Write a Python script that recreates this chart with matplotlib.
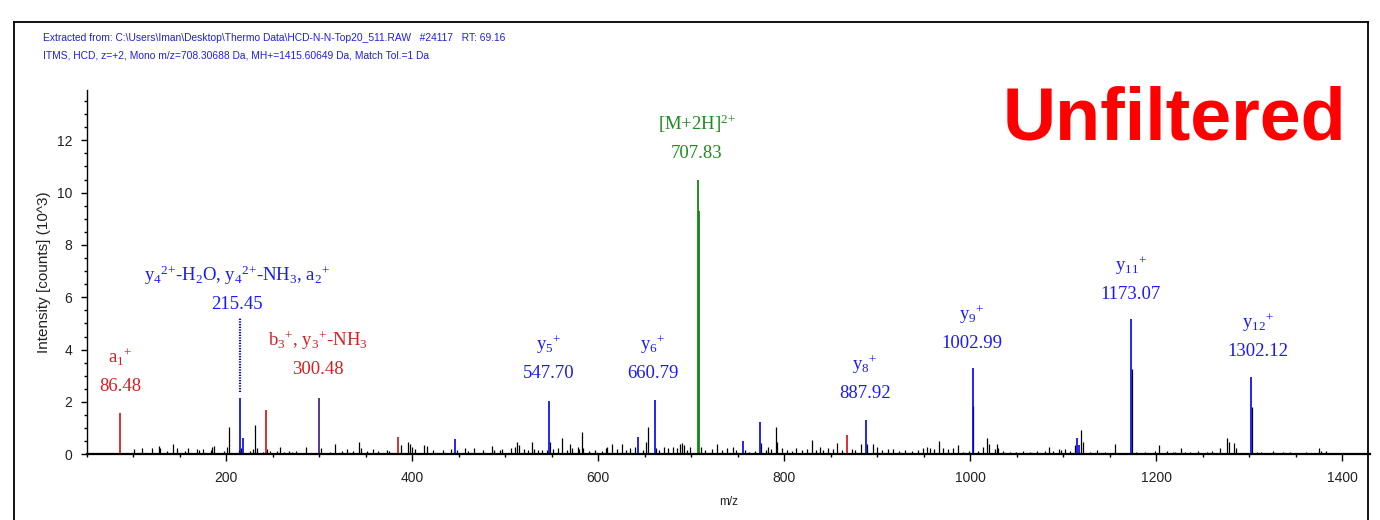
import matplotlib
matplotlib.use("Agg")
import matplotlib.pyplot as plt
from matplotlib.ticker import MultipleLocator
from matplotlib.lines import Line2D

# peak lists (m/z, intensity in 10^3 counts)
black_mz = [101.4, 110.0, 120.1, 128.3, 129.4, 136.3, 142.7, 147.0, 155.9, 158.8,
            169.1, 171.3, 174.9, 183.5, 185.3, 187.1, 197.8, 201.1, 202.9, 213.7,
            216.5, 225.8, 229.4, 231.2, 233.0, 239.5, 244.4, 247.3, 254.5, 258.0,
            262.3, 268.0, 270.6, 275.2, 286.0, 301.8, 311.8, 317.2, 324.4, 330.4,
            336.9, 343.3, 344.8, 351.3, 357.7, 363.8, 372.7, 375.6, 387.8, 396.0,
            397.8, 400.3, 403.2, 413.2, 415.7, 422.9, 432.9, 441.5, 448.0, 456.9,
            460.5, 466.6, 476.0, 485.6, 488.1, 494.5, 496.3, 506.0, 510.7, 513.2,
            515.0, 520.3, 525.0, 529.3, 531.1, 535.7, 539.4, 544.7, 548.7, 551.9,
            556.6, 560.9, 566.3, 569.8, 572.3, 578.1, 579.8, 582.4, 584.2, 590.6,
            596.7, 603.9, 608.5, 609.9, 615.3, 620.0, 625.4, 630.0, 634.3, 639.7,
            648.6, 651.5, 653.6, 662.2, 665.8, 670.8, 675.5, 680.9, 684.5, 688.0,
            690.5, 692.7, 695.2, 698.8, 710.2, 714.9, 722.1, 727.5, 732.9, 738.2,
            744.7, 748.2, 757.9, 762.5, 768.7, 775.1, 780.5, 783.0, 785.9, 790.9,
            792.6, 798.0, 802.7, 808.1, 812.7, 818.9, 824.2, 829.6, 834.2, 838.5,
            842.1, 847.5, 852.2, 856.5, 861.9, 872.6, 876.2, 882.3, 889.4, 895.2,
            899.5, 904.9, 912.0, 917.4, 923.8, 929.9, 937.1, 944.2, 949.6, 953.2,
            956.8, 961.1, 966.5, 971.1, 976.5, 981.9, 987.3, 992.6, 999.1, 1003.6,
            1008.4, 1013.4, 1018.4, 1020.5, 1026.6, 1028.5, 1030.2, 1035.6, 1042.8, 1049.2,
            1056.4, 1064.3, 1071.5, 1080.4, 1084.7, 1089.3, 1095.1, 1097.6, 1102.2, 1107.3,
            1112.6, 1119.8, 1121.6, 1128.8, 1136.7, 1144.9, 1155.7, 1173.6, 1178.8, 1187.9,
            1198.6, 1203.0, 1211.2, 1218.3, 1220.2, 1226.3, 1230.9, 1236.3, 1245.2, 1254.3,
            1259.6, 1268.6, 1276.5, 1277.9, 1284.0, 1285.5, 1302.7, 1308.6, 1313.3, 1325.8,
            1336.6, 1343.8, 1361.7, 1375.3, 1377.8, 1382.5, 1401.1, 1415.5]
black_int = [0.19, 0.25, 0.23, 0.33, 0.25, 0.14, 0.38, 0.23, 0.13, 0.25,
             0.20, 0.17, 0.19, 0.17, 0.27, 0.32, 0.14, 0.27, 1.03, 0.17,
             0.25, 0.13, 0.19, 1.12, 0.23, 0.10, 0.20, 0.13, 0.13, 0.28,
             0.10, 0.14, 0.10, 0.13, 0.27, 0.23, 0.10, 0.41, 0.13, 0.19,
             0.13, 0.47, 0.23, 0.13, 0.20, 0.13, 0.17, 0.13, 0.36, 0.48,
             0.39, 0.27, 0.20, 0.36, 0.33, 0.17, 0.17, 0.19, 0.17, 0.23,
             0.14, 0.25, 0.17, 0.33, 0.17, 0.17, 0.20, 0.23, 0.29, 0.48,
             0.36, 0.20, 0.17, 0.46, 0.20, 0.17, 0.17, 0.17, 0.46, 0.19,
             0.25, 0.61, 0.17, 0.38, 0.23, 0.27, 0.20, 0.87, 0.23, 0.13,
             0.17, 0.13, 0.25, 0.29, 0.38, 0.20, 0.41, 0.17, 0.23, 0.29,
             0.17, 0.46, 1.06, 0.23, 0.17, 0.29, 0.23, 0.29, 0.23, 0.38,
             0.42, 0.36, 0.17, 0.29, 0.29, 0.17, 0.19, 0.38, 0.17, 0.23,
             0.27, 0.17, 0.17, 0.10, 0.13, 0.42, 0.17, 0.29, 0.20, 1.03,
             0.48, 0.23, 0.17, 0.13, 0.23, 0.17, 0.20, 0.54, 0.17, 0.29,
             0.17, 0.23, 0.19, 0.42, 0.17, 0.19, 0.17, 0.41, 0.38, 0.38,
             0.29, 0.17, 0.20, 0.19, 0.13, 0.17, 0.13, 0.17, 0.25, 0.28,
             0.25, 0.20, 0.51, 0.23, 0.19, 0.23, 0.36, 0.10, 0.13, 1.85,
             0.13, 0.29, 0.61, 0.38, 0.19, 0.38, 0.23, 0.13, 0.10, 0.10,
             0.13, 0.10, 0.13, 0.13, 0.27, 0.13, 0.20, 0.17, 0.20, 0.13,
             0.36, 0.93, 0.48, 0.10, 0.17, 0.10, 0.38, 3.26, 0.10, 0.10,
             0.13, 0.36, 0.13, 0.10, 0.10, 0.23, 0.10, 0.10, 0.13, 0.10,
             0.13, 0.25, 0.64, 0.46, 0.42, 0.23, 1.82, 0.08, 0.10, 0.13,
             0.10, 0.08, 0.08, 0.23, 0.13, 0.13, 0.05, 0.05]

blue_mz = [215.45, 218.3, 446.2, 547.70, 642.9, 660.79, 755.4, 774.0, 887.92,
           1002.99, 1115.5, 1117.0, 1173.07, 1302.12]
blue_int = [2.16, 0.61, 0.60, 2.05, 0.68, 2.07, 0.52, 1.22, 1.31,
            3.30, 0.61, 0.36, 5.17, 2.95]

red_mz = [86.48, 242.7, 385.3, 867.2]
red_int = [1.58, 1.68, 0.65, 0.73]

# b3+ / y3+-NH3 shared peak
mixed_mz = [300.48]
mixed_int = [2.17]

green_mz = [707.83, 708.4]
green_int = [10.48, 9.30]

# dotted marker line above the 215.45 peak
dot_mz = 215.45
dot_range = [2.39, 5.20]

label_names = ['a$_1$$^{+}$', 'y$_4$$^{2{+}}$-H$_2$O, y$_4$$^{2{+}}$-NH$_3$, a$_2$$^{+}$',
               'b$_3$$^{+}$, y$_3$$^{+}$-NH$_3$', 'y$_5$$^{+}$', 'y$_6$$^{+}$',
               '[M+2H]$^{2{+}}$', 'y$_8$$^{+}$', 'y$_9$$^{+}$', 'y$_{11}$$^{+}$', 'y$_{12}$$^{+}$']
label_values = ['86.48', '215.45', '300.48', '547.70', '660.79', '707.83',
                '887.92', '1002.99', '1173.07', '1302.12']
label_x = [86.0, 212.0, 299.0, 546.5, 659.3, 706.3, 886.9, 1002.0, 1172.9, 1309.4]
label_y = [2.42, 5.55, 3.07, 2.93, 2.92, 11.33, 2.15, 4.06, 5.93, 3.76]
label_colors = ['#d42020', '#1a1aff', '#d42020', '#1a1aff', '#1a1aff', '#1e8c1e',
                '#1a1aff', '#1a1aff', '#1a1aff', '#1a1aff']

header1 = r"Extracted from: C:\Users\Iman\Desktop\Thermo Data\HCD-N-N-Top20_511.RAW   #24117   RT: 69.16"
header2 = "ITMS, HCD, z=+2, Mono m/z=708.30688 Da, MH+=1415.60649 Da, Match Tol.=1 Da"

plt.rcParams['font.family'] = ['Liberation Sans', 'DejaVu Sans']
plt.rcParams['mathtext.fontset'] = 'custom'
plt.rcParams['mathtext.rm'] = 'Liberation Serif'
plt.rcParams['mathtext.it'] = 'Liberation Serif'

W, H = 1380, 520
fig = plt.figure(figsize=(W / 100, H / 100), dpi=100)
ax = fig.add_axes([86.5 / W, (H - 454.3) / H, (1370 - 86.5) / W, (454.3 - 90) / H])

ax.vlines(black_mz, 0, black_int, color='black', lw=0.9)
ax.vlines(red_mz, 0, red_int, color='#cc1111', lw=1.2)
ax.vlines(blue_mz, 0, blue_int, color='#0000ee', lw=1.2)
ax.vlines(mixed_mz, 0, mixed_int, color='#4a2a8c', lw=1.3)
ax.vlines(green_mz, 0, green_int, color='#118811', lw=1.3)
ax.vlines([dot_mz], dot_range[0], dot_range[1], color='#0000ee', lw=1.6,
          linestyle=(0, (0.6, 0.6)))

for name, val, x, y, c in zip(label_names, label_values, label_x, label_y, label_colors):
    ax.text(x, y, val, color=c, fontsize=13.5, family='Liberation Serif',
            ha='center', va='baseline')
    ax.annotate(name, (x, y), xytext=(0, 20), textcoords='offset points',
                color=c, fontsize=13.5, family='Liberation Serif',
                ha='center', va='baseline')

ax.set_xlim(50, 1430)
ax.set_ylim(0, 13.92)
ax.xaxis.set_major_locator(MultipleLocator(200))
ax.xaxis.set_minor_locator(MultipleLocator(50))
ax.yaxis.set_major_locator(MultipleLocator(2))
ax.yaxis.set_minor_locator(MultipleLocator(0.5))
ax.set_xticks([200, 400, 600, 800, 1000, 1200, 1400])

for s in ['top', 'right']:
    ax.spines[s].set_visible(False)
ax.spines['left'].set_linewidth(1.0)
ax.spines['bottom'].set_linewidth(1.6)

ax.tick_params(axis='x', which='major', direction='out', length=5, width=1,
               labelsize=10, labelcolor='#222222', pad=7)
ax.tick_params(axis='x', which='minor', direction='out', length=2.3, width=1)
ax.tick_params(axis='y', which='major', direction='out', length=4.3, width=1,
               labelsize=10, labelcolor='#222222', pad=6)
ax.tick_params(axis='y', which='minor', direction='out', length=2.2, width=1)

ax.set_xlabel('m/z', fontsize=8.5, color='#222222', labelpad=8)
ax.set_ylabel('Intensity [counts] (10^3)', fontsize=11, color='#222222', labelpad=4)

fig.text(43 / W, 1 - 41.5 / H, header1, fontsize=7.4, color='#2020e6',
         va='baseline', ha='left')
fig.text(43 / W, 1 - 59 / H, header2, fontsize=7.4, color='#2020e6',
         va='baseline', ha='left')

fig.text(1003 / W, 1 - 140 / H, 'Unfiltered', fontsize=53, weight='bold',
         color='#ff0000', va='baseline', ha='left')

# outer frame (open at the bottom edge)
fx0, fx1, fy = 14 / W, 1368 / W, 1 - 21.7 / H
for xs, ys in [([fx0, fx1], [fy, fy]), ([fx0, fx0], [fy, 0]), ([fx1, fx1], [fy, 0])]:
    fig.add_artist(Line2D(xs, ys, color='black', lw=1.3, transform=fig.transFigure))

fig.savefig('out.png', dpi=100)
